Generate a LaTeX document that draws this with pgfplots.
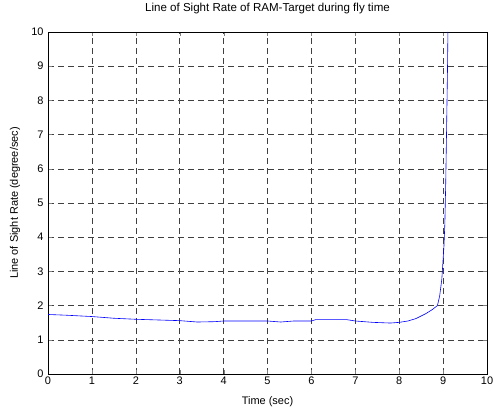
\documentclass[border=0pt]{standalone}
\usepackage{pgfplots}
\pgfplotsset{compat=1.18}
\usepackage{fontspec}
\setmainfont{Liberation Sans}
\begin{document}
\begin{tikzpicture}
\useasboundingbox (-48bp,-38bp) rectangle (446bp,374bp);
\begin{axis}[scale only axis,width=439bp,height=342bp,
  xmin=0,xmax=10,ymin=0,ymax=10,
  xtick={0,1,...,10},ytick={0,1,...,10},
  tick align=inside,major tick length=4bp,
  xtick pos=both,ytick pos=both,
  axis line style={line width=0.9bp},
  grid=major,
  major grid style={black!75,line width=0.5bp,dash pattern=on 6bp off 4bp},
  font=\fontsize{11}{13}\selectfont,
  /pgf/number format/assume math mode=true,
  title={Line of Sight Rate of RAM-Target during fly time},
  title style={at={(axis description cs:0.5,1.05)},anchor=center,font=\fontsize{11.6}{13}\selectfont},
  xlabel={Time (sec)},ylabel={Line of Sight Rate (degree/sec)},
  xlabel style={at={(axis description cs:0.5,-0.082)},anchor=center},
  ylabel style={at={(axis description cs:-0.075,0.5)},anchor=center},
  xticklabel style={yshift=1bp},
  yticklabel style={xshift=-1bp},
]
\addplot[blue,line width=0.6bp] coordinates {
(0,1.74) (0.4,1.72) (1,1.68) (1.5,1.63) (2,1.6) (2.5,1.58) (3,1.56)
(3.4,1.52) (3.8,1.53) (4,1.55) (4.5,1.55) (5,1.55) (5.3,1.52) (5.6,1.55)
(6,1.55) (6.1,1.59) (6.5,1.59) (6.8,1.59) (7,1.55) (7.4,1.51) (7.8,1.49)
(8,1.51) (8.2,1.55) (8.38,1.62) (8.6,1.76) (8.75,1.88) (8.87,2.0)
(8.92,2.27) (8.97,2.76) (9.0,3.35) (9.02,3.75) (9.04,4.4) (9.06,5.6)
(9.08,7.2) (9.1,8.9) (9.11,10)
};
\end{axis}
\end{tikzpicture}
\end{document}
